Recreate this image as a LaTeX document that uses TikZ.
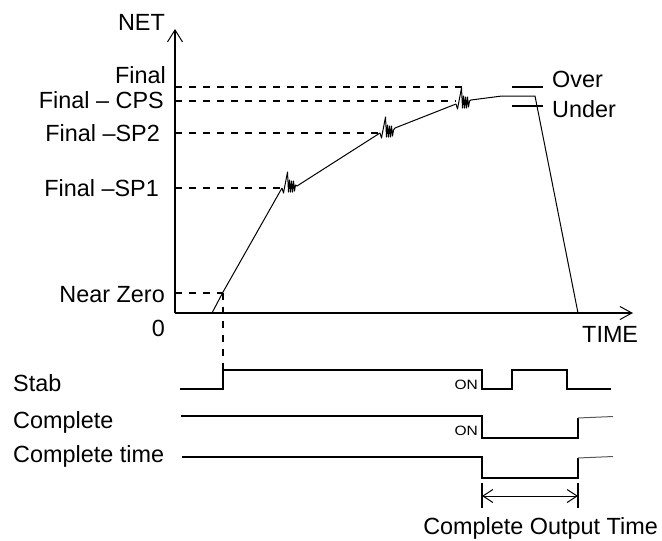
\documentclass[tikz,border=0pt]{standalone}
\usepackage{fontspec}
\setmainfont{Liberation Sans}
\usepackage{graphicx}
\usetikzlibrary{arrows.meta}
\newcommand\noisejag[2]{\draw[curve] (#1) -- +(1.5,5) -- +(5.5,-16) -- +(6.5,4) -- +(7.5,-8) -- +(8.5,4) -- +(9.5,-7) -- +(10.5,4) -- +(11.5,-7) -- +(12.5,3) -- +(13.5,-3) -- (#2);}
\begin{document}
\begin{tikzpicture}[x=1pt,y=-1pt,
  lbl/.style={font=\fontsize{23.4}{28}\selectfont, inner sep=0pt},
  onl/.style={font=\fontsize{13.5}{15}\selectfont, inner sep=0pt},
  axis/.style={line width=2pt},
  curve/.style={line width=1pt, line join=round},
  guide/.style={line width=2pt, dash pattern=on 7pt off 7pt},
  sig/.style={line width=2pt, line join=miter},
  sigthin/.style={line width=1pt, black!65},
]
\useasboundingbox (0,0) rectangle (662,541);

% axes
\coordinate (O) at (175,313);
\coordinate (ytop) at (175,29);
\coordinate (xend) at (633,313);
\draw[axis, -{Straight Barb[length=12pt,width=15pt,line width=1pt]}] (O) -- (ytop);
\draw[axis, -{Straight Barb[length=12pt,width=13pt,line width=1pt]}] (O) -- (xend);

% labels of the graph
\node[lbl, anchor=base east] (net) at (165,30) {NET};
\node[lbl, anchor=base east] (lfinal) at (166,83) {Final};
\node[lbl, anchor=base east] (lcps) at (164,108) {Final – CPS};
\node[lbl, anchor=base east] (lsp2) at (160,141) {Final –SP2};
\node[lbl, anchor=base east] (lsp1) at (159,196) {Final –SP1};
\node[lbl, anchor=base east] (lnz) at (165,302) {Near Zero};
\node[lbl, anchor=base east] (lzero) at (165,336) {0};
\node[lbl, anchor=base west] (lover) at (552,87) {Over};
\node[lbl, anchor=base west] (lunder) at (552,117) {Under};
\node[lbl, anchor=base west] (ltime) at (582,342) {TIME};

% curve points
\coordinate (c0) at (212,313);
\coordinate (nz) at (222.5,293);
\coordinate (n1a) at (282,188);
\coordinate (n1b) at (297,186);
\coordinate (n2a) at (380,133);
\coordinate (n2b) at (395,128);
\coordinate (n3a) at (456,104);
\coordinate (n3b) at (471,100);
\coordinate (p1) at (502,96);
\coordinate (p2) at (535,96);
\coordinate (pend) at (578,313);

% guide levels
\coordinate (gF) at (175,87);   \coordinate (gFe) at (463,87);
\coordinate (gC) at (175,101);  \coordinate (gCe) at (456,101);
\coordinate (g2) at (175,133);  \coordinate (g2e) at (380,133);
\coordinate (g1) at (175,188);  \coordinate (g1e) at (282,188);
\coordinate (gN) at (175,293);
\draw[guide] (gF) -- (gFe);
\draw[guide] (gC) -- (gCe);
\draw[guide] (g2) -- (g2e);
\draw[guide] (g1) -- (g1e);
\draw[guide] (gN) -- (nz);

% curve
\draw[curve] (c0) -- (nz) -- (n1a);
\noisejag{n1a}{n1b}
\draw[curve] (n1b) -- (n2a);
\noisejag{n2a}{n2b}
\draw[curve] (n2b) -- (n3a);
\noisejag{n3a}{n3b}
\draw[curve] (n3b) -- (p1) -- (p2) -- (pend);

% over / under bars
\coordinate (ov1) at (512,87);  \coordinate (ov2) at (543,87);
\coordinate (un1) at (512,106); \coordinate (un2) at (543,106);
\draw[sig] (ov1) -- (ov2);
\draw[sig] (un1) -- (un2);

% timing labels
\node[lbl, anchor=base west] (lstab) at (13,391) {Stab};
\node[lbl, anchor=base west] (lcomp) at (13,428) {Complete};
\node[lbl, anchor=base west] (lctime) at (13,462) {Complete time};
\node[onl, anchor=east] (on1) at (478,384.5) {\scalebox{1.15}[1]{ON}};
\node[onl, anchor=east] (on2) at (478,430.5) {\scalebox{1.15}[1]{ON}};

% near-zero marker down to Stab
\coordinate (srise) at (222.5,370);
\draw[guide] (nz) -- (srise);

% Stab signal
\draw[sig] (180,389) -- (222.5,389) -- (srise) -- (482,370) -- (482,389) -- (512,389) -- (512,370) -- (567,370) -- (567,389) -- (611,389);
% Complete signal
\coordinate (cr) at (578,418);
\draw[sig] (181,416) -- (482,416) -- (482,438) -- (578,438) -- (cr);
\draw[sigthin] (cr) -- (613,416.5);
% Complete time signal
\coordinate (tr) at (578,458);
\draw[sig] (182,457) -- (482,457) -- (482,478) -- (578,478) -- (tr);
\draw[sigthin] (tr) -- (613,456.5);

% complete output time dimension
\coordinate (d1t) at (482,483); \coordinate (d1b) at (482,508);
\coordinate (d2t) at (578,483); \coordinate (d2b) at (578,508);
\coordinate (da) at (482,496); \coordinate (db) at (578,496);
\draw[line width=1.5pt] (d1t) -- (d1b);
\draw[line width=1.5pt] (d2t) -- (d2b);
\draw[line width=1pt, {Straight Barb[length=10pt,width=13pt,line width=1pt]}-{Straight Barb[length=10pt,width=13pt,line width=1pt]}] (da) -- (db);
\node[lbl, anchor=base east] (lcot) at (658,534) {Complete Output Time};
\end{tikzpicture}
\end{document}
